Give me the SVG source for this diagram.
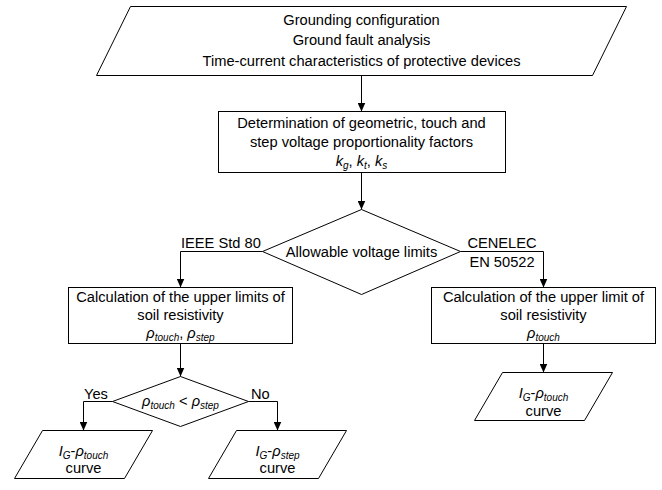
<svg xmlns="http://www.w3.org/2000/svg" width="662" height="490" viewBox="0 0 662 490">
<style>
  .shape { fill: #ffffff; stroke: #000000; stroke-width: 1; }
  .conn { fill: none; stroke: #000000; stroke-width: 1; }
  text { font-family: "Liberation Sans", Arial, sans-serif; font-size: 14.67px; fill: #000000; }
  .c { text-anchor: middle; }
  .i { font-style: italic; }
  .sub { font-style: italic; font-size: 10px; }
</style>
<defs>
  <marker id="ah" viewBox="0 0 9 8" refX="9" refY="4" markerWidth="9" markerHeight="8" markerUnits="userSpaceOnUse" orient="auto">
    <path d="M0,0 L9,4 L0,8 z" fill="#000000"/>
  </marker>
</defs>
<rect width="662" height="490" fill="#ffffff"/>

<g id="connectors">
  <line class="conn" x1="361.5" y1="75.5" x2="361.5" y2="111.5" marker-end="url(#ah)"/>
  <line class="conn" x1="361.5" y1="172.5" x2="361.5" y2="209.5" marker-end="url(#ah)"/>
  <polyline class="conn" points="262.5,251.5 180.5,251.5 180.5,287.5" marker-end="url(#ah)"/>
  <polyline class="conn" points="460.5,251.5 543.5,251.5 543.5,287.5" marker-end="url(#ah)"/>
  <line class="conn" x1="180.5" y1="343.5" x2="180.5" y2="376.5" marker-end="url(#ah)"/>
  <polyline class="conn" points="112.5,401.5 83.5,401.5 83.5,430.5" marker-end="url(#ah)"/>
  <polyline class="conn" points="248.5,401.5 277.5,401.5 277.5,430.5" marker-end="url(#ah)"/>
  <line class="conn" x1="543.5" y1="343.5" x2="543.5" y2="372.5" marker-end="url(#ah)"/>
  <text x="181" y="248">IEEE Std 80</text>
  <text class="c" x="502" y="248">CENELEC</text>
  <text class="c" x="502" y="266.5">EN 50522</text>
  <text x="84" y="399">Yes</text>
  <text x="251" y="399">No</text>
</g>

<g id="input">
  <polygon class="shape" points="130.5,6.5 626.5,6.5 592.5,75.5 96.5,75.5"/>
  <text class="c" x="361.5" y="25">Grounding configuration</text>
  <text class="c" x="361.5" y="45">Ground fault analysis</text>
  <text class="c" x="361.5" y="66">Time-current characteristics of protective devices</text>
</g>

<g id="factors">
  <rect class="shape" x="218.5" y="111.5" width="287" height="61"/>
  <text class="c" x="361.5" y="128">Determination of geometric, touch and</text>
  <text class="c" x="361.5" y="147">step voltage proportionality factors</text>
  <text class="c" x="361.5" y="166"><tspan class="i">k</tspan><tspan class="sub" dy="3">g</tspan><tspan dy="-3">, </tspan><tspan class="i">k</tspan><tspan class="sub" dy="3">t</tspan><tspan dy="-3">, </tspan><tspan class="i">k</tspan><tspan class="sub" dy="3">s</tspan></text>
</g>

<g id="limits">
  <polygon class="shape" points="361.5,209.5 460.5,251.5 361.5,294.5 262.5,251.5"/>
  <text class="c" x="361.5" y="257">Allowable voltage limits</text>
</g>

<g id="ieee-calc">
  <rect class="shape" x="68.5" y="287.5" width="224" height="56"/>
  <text class="c" x="180.5" y="302">Calculation of the upper limits of</text>
  <text class="c" x="180.5" y="320">soil resistivity</text>
  <text class="c" x="180.5" y="338"><tspan class="i">ρ</tspan><tspan class="sub" dy="3">touch</tspan><tspan dy="-3">, </tspan><tspan class="i">ρ</tspan><tspan class="sub" dy="3">step</tspan></text>
</g>

<g id="cenelec-calc">
  <rect class="shape" x="431.5" y="287.5" width="224" height="56"/>
  <text class="c" x="543.5" y="302">Calculation of the upper limit of</text>
  <text class="c" x="543.5" y="320">soil resistivity</text>
  <text class="c" x="543.5" y="338"><tspan class="i">ρ</tspan><tspan class="sub" dy="3">touch</tspan></text>
</g>

<g id="compare">
  <polygon class="shape" points="180.5,376.5 248.5,401.5 180.5,426.5 112.5,401.5"/>
  <text class="c" x="180.5" y="406"><tspan class="i">ρ</tspan><tspan class="sub" dy="3">touch</tspan><tspan dy="-3"> &lt; </tspan><tspan class="i">ρ</tspan><tspan class="sub" dy="3">step</tspan></text>
</g>

<g id="curve-touch-ieee">
  <polygon class="shape" points="42.5,430.5 152.5,430.5 124.5,478.5 14.5,478.5"/>
  <text class="c" x="83.5" y="456"><tspan class="i">I</tspan><tspan class="sub" dy="3">G</tspan><tspan dy="-3">-</tspan><tspan class="i">ρ</tspan><tspan class="sub" dy="3">touch</tspan></text>
  <text class="c" x="83.5" y="473">curve</text>
</g>

<g id="curve-step-ieee">
  <polygon class="shape" points="236.5,430.5 346.5,430.5 318.5,478.5 208.5,478.5"/>
  <text class="c" x="277.5" y="456"><tspan class="i">I</tspan><tspan class="sub" dy="3">G</tspan><tspan dy="-3">-</tspan><tspan class="i">ρ</tspan><tspan class="sub" dy="3">step</tspan></text>
  <text class="c" x="277.5" y="473">curve</text>
</g>

<g id="curve-touch-cenelec">
  <polygon class="shape" points="502.5,372.5 612.5,372.5 584.5,420.5 474.5,420.5"/>
  <text class="c" x="543.5" y="398"><tspan class="i">I</tspan><tspan class="sub" dy="3">G</tspan><tspan dy="-3">-</tspan><tspan class="i">ρ</tspan><tspan class="sub" dy="3">touch</tspan></text>
  <text class="c" x="543.5" y="415.5">curve</text>
</g>
</svg>
